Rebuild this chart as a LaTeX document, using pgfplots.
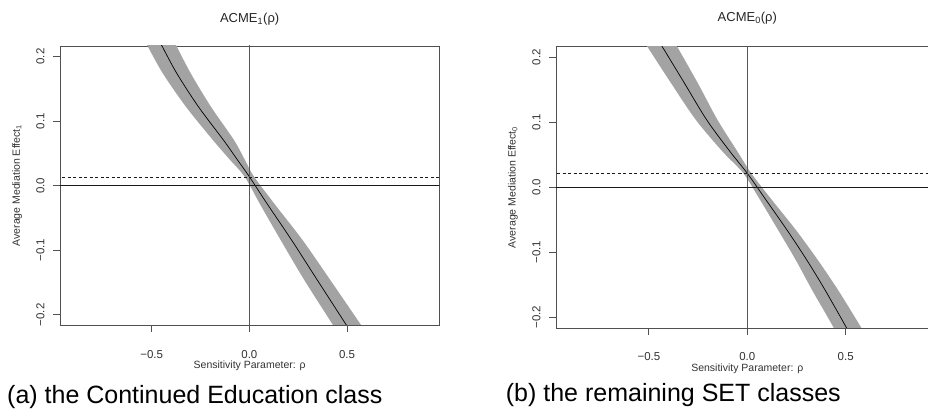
\documentclass[border=0pt]{standalone}
\usepackage{fontspec}
\setmainfont{Liberation Sans}
\usepackage{pgfplots}
\usepackage{pgfplotstable}
\usepgfplotslibrary{fillbetween}
\pgfplotsset{compat=1.18}

\definecolor{bandgray}{RGB}{163,163,163}
\definecolor{boxgray}{RGB}{80,80,80}
\definecolor{txtgray}{RGB}{50,50,50}

% ACME_1(rho): y, lower-x edge, centre, upper-x edge of the band
\pgfplotstableread{
y        left     center   right
0.235   -0.556   -0.481   -0.406
0.2168  -0.522   -0.448   -0.374
0.174   -0.443   -0.3715  -0.300
0.1224  -0.325   -0.261   -0.197
0.0708  -0.187   -0.133   -0.079
0.040   -0.099   -0.061   -0.023
0.0139  -0.024    0.000    0.024
-0.0299  0.057    0.095    0.133
-0.0841  0.160    0.216    0.272
-0.146   0.281    0.3475   0.414
-0.2168  0.430    0.4985   0.574
-0.235   0.466    0.537    0.612
}\acmeone

% ACME_0(rho)
\pgfplotstableread{
y        left     center   right
0.235   -0.548   -0.470   -0.392
0.2178  -0.511   -0.435   -0.359
0.16    -0.387   -0.319   -0.251
0.1035  -0.261   -0.206   -0.151
0.055   -0.126   -0.088   -0.050
0.0215  -0.020    0.000    0.020
-0.0195  0.065    0.095    0.125
-0.065   0.155    0.200    0.245
-0.1118  0.246    0.302    0.358
-0.158   0.329    0.395    0.461
-0.215   0.437    0.502    0.577
-0.235   0.470    0.538    0.615
}\acmezero

\pgfplotsset{
  rstyle/.style={
    scale only axis,
    axis line style={draw=boxgray, line width=0.9pt},
    xtick align=outside, ytick align=outside,
    major tick length=7pt,
    every tick/.append style={draw=boxgray, line width=0.9pt},
    xtick pos=bottom, ytick pos=left,
    xtick={-0.5,0,0.5}, xticklabels={−0.5,0.0,0.5},
    ytick={-0.2,-0.1,0,0.1,0.2}, yticklabels={−0.2,−0.1,0.0,0.1,0.2},
    ticklabel style={font=\fontsize{11.5}{12}\selectfont, text=txtgray},
    yticklabel style={rotate=90, anchor=south},
    yticklabel shift=5pt,
    xlabel style={font=\fontsize{10.5}{11}\selectfont, text=txtgray, anchor=base},
    ylabel style={font=\fontsize{10.5}{11}\selectfont, text=txtgray, anchor=center},
    every axis title shift=0pt,
    title style={font=\fontsize{13}{14}\selectfont, text=black!85, anchor=base, yshift=0pt},
    clip=true,
  }
}

\begin{document}
\begin{tikzpicture}[x=1pt,y=1pt]

\begin{axis}[rstyle,
  at={(60pt,87pt)}, anchor=south west,
  width=379.3pt, height=279pt,
  xmin=-0.969, xmax=0.972, ymin=-0.2157, ymax=0.2163,
  xticklabel style={anchor=base, yshift=-26.7pt},
  title={ACME\textsubscript{1}(ρ)},
  title style={at={(axis description cs:0.5,1.086)}},
  xlabel={Sensitivity Parameter: ρ},
  xlabel style={at={(axis description cs:0.5,-0.1577)}},
  ylabel={Average Mediation Effect\textsubscript{1}},
  ylabel style={at={(axis description cs:-0.113,0.5)}},
]
\addplot[draw=none, smooth, name path=A] table[x=left, y=y] {\acmeone};
\addplot[draw=none, smooth, name path=B] table[x=right, y=y] {\acmeone};
\addplot[fill=bandgray, draw=none] fill between[of=A and B];
\addplot[black, line width=0.7pt, smooth] table[x=center, y=y] {\acmeone};
\addplot[black!65, line width=0.8pt] coordinates {(0,-1) (0,1)};
\addplot[black!90, line width=0.8pt] coordinates {(-2,0) (2,0)};
\addplot[black!90, line width=0.8pt, dash pattern=on 3pt off 2.5pt] coordinates {(-2,0.0135) (2,0.0135)};
\end{axis}

\begin{axis}[rstyle,
  at={(556pt,84pt)}, anchor=south west,
  width=382.6pt, height=281.3pt,
  xmin=-0.972, xmax=0.972, ymin=-0.2165, ymax=0.2163,
  xticklabel style={anchor=base, yshift=-26pt},
  title={ACME\textsubscript{0}(ρ)},
  title style={at={(axis description cs:0.5,1.089)}},
  xlabel={Sensitivity Parameter: ρ},
  xlabel style={at={(axis description cs:0.5,-0.1553)}},
  ylabel={Average Mediation Effect\textsubscript{0}},
  ylabel style={at={(axis description cs:-0.1124,0.5)}},
]
\addplot[draw=none, smooth, name path=A] table[x=left, y=y] {\acmezero};
\addplot[draw=none, smooth, name path=B] table[x=right, y=y] {\acmezero};
\addplot[fill=bandgray, draw=none] fill between[of=A and B];
\addplot[black, line width=0.7pt, smooth] table[x=center, y=y] {\acmezero};
\addplot[black!65, line width=0.8pt] coordinates {(0,-1) (0,1)};
\addplot[black!90, line width=0.8pt] coordinates {(-2,0) (2,0)};
\addplot[black!90, line width=0.8pt, dash pattern=on 3pt off 2.5pt] coordinates {(-2,0.0215) (2,0.0215)};
\end{axis}

% R-style outward tick marks (axis decoration)
\begin{scope}[draw=boxgray, line width=0.9pt]
  \foreach \tx in {151.65,249.36,347.07} \draw (\tx,87) -- ++(0,-7);
  \foreach \ty in {97.15,161.73,226.31,290.89,355.48} \draw (60,\ty) -- ++(-7,0);
  \foreach \tx in {648.9,747.3,845.7} \draw (\tx,84) -- ++(0,-7);
  \foreach \ty in {94.72,159.72,224.71,289.71,354.7} \draw (556,\ty) -- ++(-7,0);
\end{scope}

\node[anchor=base west, inner sep=0pt, font=\fontsize{25}{28}\selectfont] at (7,9) {(a) the Continued Education class};
\node[anchor=base west, inner sep=0pt, font=\fontsize{25}{28}\selectfont] at (505.7,10.3) {(b) the remaining SET classes};
\pgfresetboundingbox
\path[use as bounding box] (0,0) rectangle (928,412);
\end{tikzpicture}
\end{document}
